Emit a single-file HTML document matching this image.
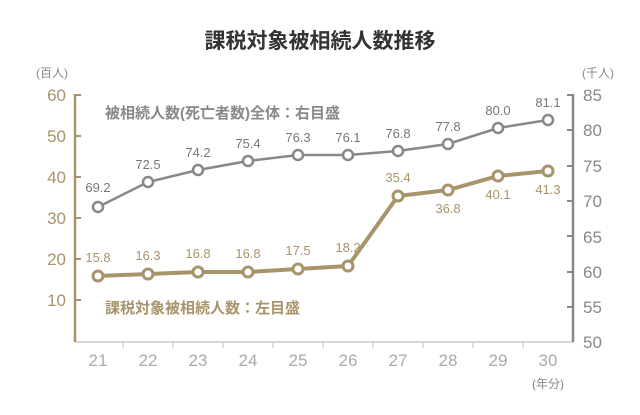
<!DOCTYPE html>
<html><head><meta charset="utf-8"><style>
body{margin:0;background:#fff;}
svg text{font-family:"Liberation Sans","Noto Sans CJK JP",sans-serif;}
</style></head><body>
<svg width="640" height="410" viewBox="0 0 640 410" xmlns="http://www.w3.org/2000/svg">
<text x="320" y="48" text-anchor="middle" font-size="21" font-weight="bold" fill="#333">課税対象被相続人数推移</text>
<text x="52" y="77" text-anchor="middle" font-size="12" fill="#888">(百人)</text>
<text x="598" y="77" text-anchor="middle" font-size="12" fill="#888">(千人)</text>
<g font-size="17" fill="#a8946b" text-anchor="end">
<text x="66" y="101">60</text><text x="66" y="142">50</text><text x="66" y="183">40</text>
<text x="66" y="224">30</text><text x="66" y="265">20</text><text x="66" y="306">10</text>
</g>
<g font-size="17" fill="#888" text-anchor="start">
<text x="583" y="101">85</text><text x="583" y="136">80</text><text x="583" y="172">75</text>
<text x="583" y="207">70</text><text x="583" y="243">65</text><text x="583" y="278">60</text>
<text x="583" y="313">55</text><text x="583" y="348">50</text>
</g>
<line x1="75" y1="342" x2="573" y2="342" stroke="#ccc" stroke-width="1.5"/>
<g stroke="#ccc" stroke-width="1.2">
<line x1="123" y1="342" x2="123" y2="348"/><line x1="173" y1="342" x2="173" y2="348"/><line x1="223" y1="342" x2="223" y2="348"/><line x1="273" y1="342" x2="273" y2="348"/><line x1="323" y1="342" x2="323" y2="348"/><line x1="373" y1="342" x2="373" y2="348"/><line x1="423" y1="342" x2="423" y2="348"/><line x1="473" y1="342" x2="473" y2="348"/><line x1="523" y1="342" x2="523" y2="348"/>
</g>
<polyline points="75,94 75,342" stroke="#a8946b" stroke-width="2.5" fill="none"/>
<g stroke="#a8946b" stroke-width="2"><line x1="75" y1="95" x2="81" y2="95"/><line x1="75" y1="136" x2="81" y2="136"/><line x1="75" y1="177" x2="81" y2="177"/><line x1="75" y1="218" x2="81" y2="218"/><line x1="75" y1="259" x2="81" y2="259"/><line x1="75" y1="300" x2="81" y2="300"/></g>
<line x1="573" y1="94" x2="573" y2="342" stroke="#888" stroke-width="2.5"/>
<g stroke="#888" stroke-width="2"><line x1="567" y1="95" x2="573" y2="95"/><line x1="567" y1="130" x2="573" y2="130"/><line x1="567" y1="166" x2="573" y2="166"/><line x1="567" y1="201" x2="573" y2="201"/><line x1="567" y1="236" x2="573" y2="236"/><line x1="567" y1="272" x2="573" y2="272"/><line x1="567" y1="307" x2="573" y2="307"/></g>
<g font-size="17" fill="#aaa" text-anchor="middle">
<text x="98" y="366">21</text><text x="148" y="366">22</text><text x="198" y="366">23</text><text x="248" y="366">24</text><text x="298" y="366">25</text><text x="348" y="366">26</text><text x="398" y="366">27</text><text x="448" y="366">28</text><text x="498" y="366">29</text><text x="548" y="366">30</text>
</g>
<text x="548" y="388" text-anchor="middle" font-size="12" fill="#888">(年分)</text>
<text x="105" y="118" font-size="15" font-weight="bold" fill="#888">被相続人数(死亡者数)全体：右目盛</text>
<text x="105" y="313" font-size="15" font-weight="bold" fill="#a8946b">課税対象被相続人数：左目盛</text>
<polyline points="98,207 148,182 198,170 248,161 298,155 348,155 398,151 448,144 498,128 548,120" fill="none" stroke="#888" stroke-width="2.5"/>
<g fill="#fff" stroke="#888" stroke-width="2.5">
<circle cx="98" cy="207" r="5"/><circle cx="148" cy="182" r="5"/><circle cx="198" cy="170" r="5"/><circle cx="248" cy="161" r="5"/><circle cx="298" cy="155" r="5"/><circle cx="348" cy="155" r="5"/><circle cx="398" cy="151" r="5"/><circle cx="448" cy="144" r="5"/><circle cx="498" cy="128" r="5"/><circle cx="548" cy="120" r="5"/>
</g>
<g font-size="13" fill="#777" text-anchor="middle">
<text x="98" y="192">69.2</text><text x="148" y="169">72.5</text><text x="198" y="157">74.2</text><text x="248" y="148">75.4</text><text x="298" y="142">76.3</text><text x="348" y="142">76.1</text><text x="398" y="138">76.8</text><text x="448" y="131">77.8</text><text x="498" y="115">80.0</text><text x="548" y="107">81.1</text>
</g>
<polyline points="98,276 148,274 198,272 248,272 298,269 348,266 398,196 448,190 498,176 548,171" fill="none" stroke="#a8946b" stroke-width="4"/>
<g fill="#fff" stroke="#a8946b" stroke-width="3">
<circle cx="98" cy="276" r="5"/><circle cx="148" cy="274" r="5"/><circle cx="198" cy="272" r="5"/><circle cx="248" cy="272" r="5"/><circle cx="298" cy="269" r="5"/><circle cx="348" cy="266" r="5"/><circle cx="398" cy="196" r="5"/><circle cx="448" cy="190" r="5"/><circle cx="498" cy="176" r="5"/><circle cx="548" cy="171" r="5"/>
</g>
<g font-size="13" fill="#a8946b" text-anchor="middle">
<text x="98" y="262">15.8</text><text x="148" y="260">16.3</text><text x="198" y="258">16.8</text><text x="248" y="258">16.8</text><text x="298" y="255">17.5</text><text x="348" y="252">18.2</text><text x="398" y="182">35.4</text><text x="448" y="213">36.8</text><text x="498" y="199">40.1</text><text x="548" y="194">41.3</text>
</g>
</svg>
</body></html>
